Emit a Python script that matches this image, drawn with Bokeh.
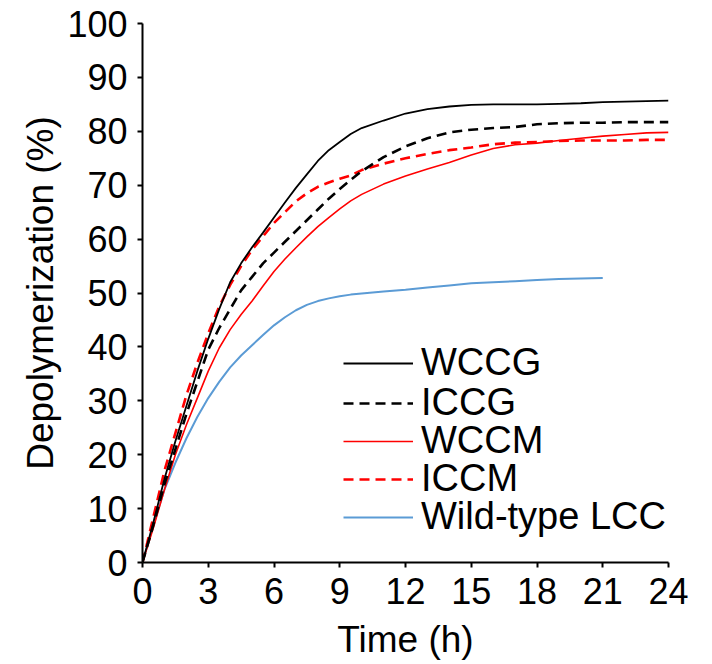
from bokeh.plotting import figure
from bokeh.models import FixedTicker, Legend, LegendItem, Range1d
from bokeh.embed import file_html
from bokeh.resources import INLINE

# ---- data ----
time_h = [0, 0.5, 1, 1.5, 2, 2.5, 3, 3.5, 4, 4.5, 5, 5.5, 6, 6.5, 7, 7.5, 8, 8.5, 9, 9.5,
          10, 11, 12, 13, 14, 15, 16, 17, 18, 19, 20, 21, 22, 23, 24]
wccg = [0, 7.5, 15.5, 22.5, 29, 35.5, 41.5, 47, 52, 55.5, 58.5, 61.2, 64, 66.8, 69.5, 72, 74.5, 76.5, 78, 79.5,
        80.6, 82, 83.3, 84.1, 84.6, 84.9, 85, 85, 85, 85.1, 85.2, 85.4, 85.5, 85.6, 85.7]
iccg = [0, 7, 14.5, 21, 27.5, 33.5, 39.5, 43.5, 47, 50.5, 53, 55.5, 57.5, 59.5, 61.5, 63.5, 65.5, 67.5, 69.3, 71,
        72.6, 75.2, 77.2, 78.7, 79.8, 80.3, 80.6, 80.8, 81.3, 81.5, 81.6, 81.6, 81.7, 81.7, 81.7]
wccm = [0, 6.5, 13.5, 20, 25.5, 30.5, 35.5, 39.8, 43.2, 46, 48.5, 51.3, 54, 56.3, 58.4, 60.4, 62.3, 64, 65.6, 67.1,
        68.3, 70.2, 71.7, 73, 74.2, 75.6, 76.8, 77.5, 77.8, 78.3, 78.7, 79.1, 79.4, 79.7, 79.8]
iccm = [0, 8.5, 17, 24, 31, 37, 42.5, 47.5, 51.5, 55, 58, 60.5, 63, 65, 67, 68.5, 69.7, 70.5, 71.2, 71.8,
        72.8, 74, 75, 75.8, 76.5, 77, 77.6, 77.9, 78, 78.2, 78.3, 78.3, 78.3, 78.4, 78.4]
wt_time_h = [0, 0.5, 1, 1.5, 2, 2.5, 3, 3.5, 4, 4.5, 5, 5.5, 6, 6.5, 7, 7.5, 8, 8.5, 9, 9.5,
             10, 11, 12, 13, 14, 15, 16, 17, 18, 19, 20, 21]
wt_lcc = [0, 7, 13.5, 18.5, 23, 27, 30.5, 33.5, 36.2, 38.4, 40.3, 42.2, 44, 45.5, 46.8, 47.8, 48.5, 49, 49.4, 49.7,
          49.9, 50.3, 50.6, 51, 51.4, 51.8, 52, 52.2, 52.4, 52.6, 52.7, 52.8]

series_names = ["WCCG", "ICCG", "WCCM", "ICCM", "Wild-type LCC"]
x_ticks = [0, 3, 6, 9, 12, 15, 18, 21, 24]
y_ticks = [0, 10, 20, 30, 40, 50, 60, 70, 80, 90, 100]

FONT = "Liberation Sans"

p = figure(width=710, height=662, x_range=Range1d(0, 24), y_range=Range1d(0, 100),
           output_backend="svg", toolbar_location=None,
           min_border_left=142, min_border_right=42, min_border_top=23, min_border_bottom=99)
p.outline_line_color = None
p.grid.visible = False
p.background_fill_color = "white"
p.border_fill_color = "white"

r_wt = p.line(wt_time_h, wt_lcc, line_color="#5b9bd5", line_width=2)
r_wccm = p.line(time_h, wccm, line_color="#ff0000", line_width=1.6)
r_iccm = p.line(time_h, iccm, line_color="#ff0000", line_width=2.6, line_dash="10 6")
r_iccg = p.line(time_h, iccg, line_color="black", line_width=2.6, line_dash="10 6")
r_wccg = p.line(time_h, wccg, line_color="black", line_width=1.8)

for ax in (p.xaxis[0], p.yaxis[0]):
    ax.axis_line_width = 2
    ax.axis_line_color = "black"
    ax.major_tick_line_width = 2
    ax.major_tick_line_color = "black"
    ax.major_tick_out = 5
    ax.major_tick_in = 0
    ax.minor_tick_line_color = None
    ax.major_label_text_font = FONT
    ax.major_label_text_font_size = "36px"
    ax.major_label_text_color = "black"
    ax.axis_label_text_font = FONT
    ax.axis_label_text_font_size = "37px"
    ax.axis_label_text_font_style = "normal"
    ax.axis_label_text_color = "black"

p.xaxis.ticker = FixedTicker(ticks=x_ticks)
p.yaxis.ticker = FixedTicker(ticks=y_ticks)
p.xaxis.axis_label = "Time (h)"
p.yaxis.axis_label = "Depolymerization (%)"
p.xaxis.major_label_standoff = 10
p.yaxis.major_label_standoff = 10
p.xaxis.axis_label_standoff = 12
p.yaxis.axis_label_standoff = 3

# one legend per row so that row spacing matches the reference
renderers = [r_wccg, r_iccg, r_wccm, r_iccm, r_wt]
legend_bottoms = [178, 138, 100, 62, 24]  # screen px above frame bottom
for name, rend, vy in zip(series_names, renderers, legend_bottoms):
    lg = Legend(items=[LegendItem(label=name, renderers=[rend])], location=(201, vy))
    lg.border_line_color = None
    lg.background_fill_alpha = 0
    lg.padding = 0
    lg.margin = 0
    lg.spacing = 0
    lg.glyph_width = 70
    lg.label_standoff = 8
    lg.label_text_font = FONT
    lg.label_text_font_size = "38px"
    lg.label_text_color = "black"
    p.add_layout(lg)

open("out.html", "w").write(file_html(p, INLINE))
